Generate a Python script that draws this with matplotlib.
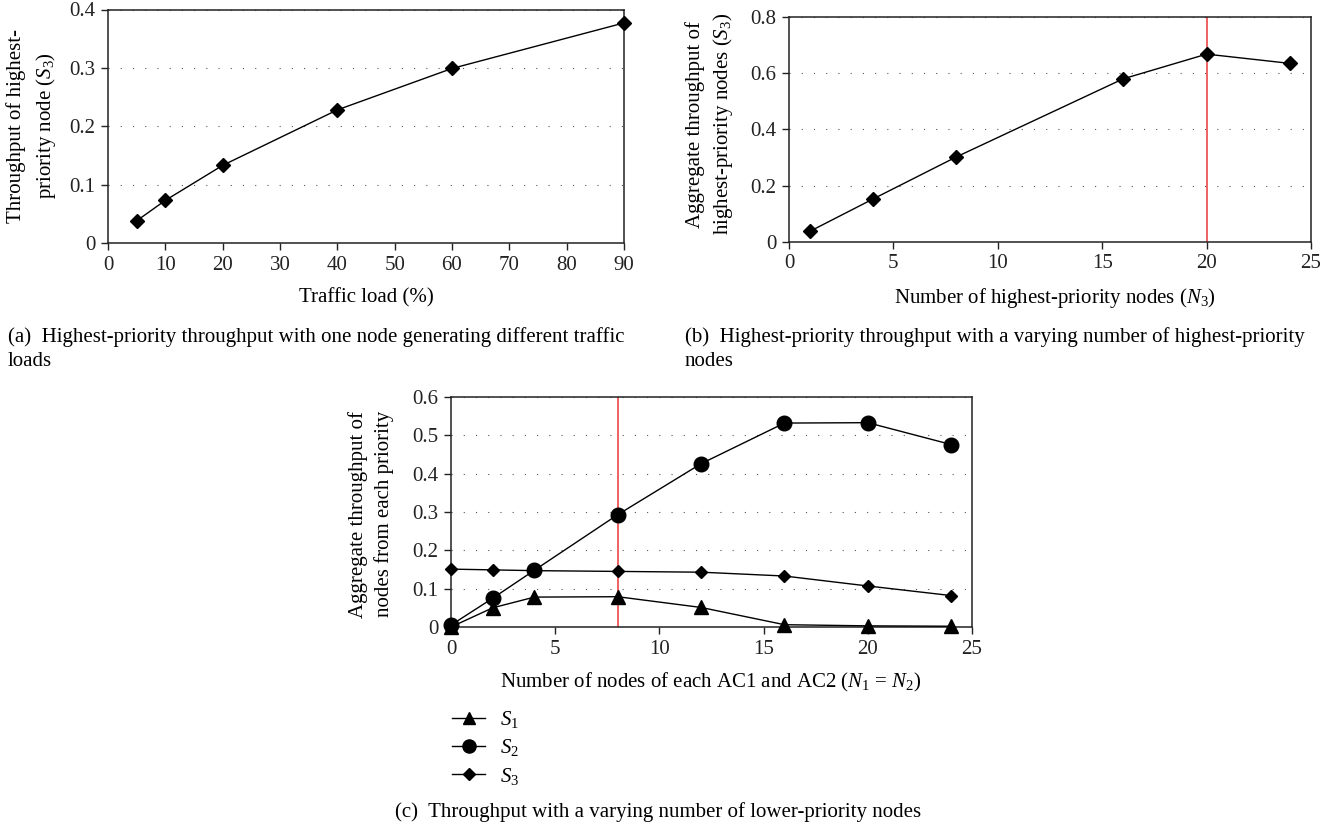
import numpy as np
import matplotlib
matplotlib.use('Agg')
import matplotlib.pyplot as plt
import matplotlib.ticker as mticker

# --- style ---
plt.rcParams['font.family'] = ['Liberation Serif', 'DejaVu Serif']
plt.rcParams['mathtext.fontset'] = 'custom'
plt.rcParams['mathtext.rm'] = 'Liberation Serif'
plt.rcParams['mathtext.it'] = 'Liberation Serif:italic'
plt.rcParams['font.size'] = 15

FS = 15

# ==============================================================================
# Data
# ==============================================================================
load_a = [5, 10, 20, 40, 60, 90]
s3_a = [0.038, 0.073, 0.133, 0.228, 0.299, 0.377]

nodes_b = [1, 4, 8, 16, 20, 24]
s3_b = [0.038, 0.152, 0.302, 0.580, 0.668, 0.635]

nodes_c = [0, 2, 4, 8, 12, 16, 20, 24]
s1_c = [0.0, 0.050, 0.078, 0.079, 0.051, 0.006, 0.003, 0.002]
s2_c = [0.005, 0.075, 0.148, 0.293, 0.426, 0.532, 0.533, 0.476]
s3_c = [0.151, 0.149, 0.147, 0.145, 0.143, 0.133, 0.107, 0.082]

W, H = 1341, 826
fig = plt.figure(figsize=(W / 100, H / 100), dpi=100)


def px_axes(left, right, top, bottom):
    return fig.add_axes([left / W, 1 - bottom / H, (right - left) / W, (bottom - top) / H])


def px_text(x, y, s, **kw):
    fig.text(x / W, 1 - y / H, s, **kw)


def style(ax):
    for sp in ax.spines.values():
        sp.set_linewidth(1.1)
        sp.set_color('#222222')
    ax.tick_params(direction='out', length=5, width=1, colors='#222222',
                   labelsize=FS, pad=4)
    ax.yaxis.set_major_formatter(mticker.FuncFormatter(lambda v, p: f'{v:g}'))
    ax.grid(True, axis='y', color='#555555', linewidth=0.8, linestyle=(0, (1, 10)))
    ax.set_axisbelow(True)


red = '#ee5555'

# --- (a) ---
ax1 = px_axes(108, 624, 9.5, 243)
ax1.plot(load_a, s3_a, color='black', lw=1, marker='D', ms=7.5, clip_on=False, zorder=4)
ax1.set_xlim(0, 90)
ax1.set_ylim(0, 0.4)
ax1.set_xticks(np.arange(0, 91, 10))
ax1.set_yticks(np.arange(0, 0.41, 0.1))
style(ax1)
px_text(366, 298, 'Traffic load (%)', ha='center', va='center', fontsize=FS)
px_text(32, 126, 'Throughput of highest-\npriority node ($S_3$)', rotation=90,
        ha='center', va='center', fontsize=FS, linespacing=1.45)
px_text(8, 337, '(a)  Highest-priority throughput with one node generating different traffic',
        ha='left', va='center', fontsize=FS)
px_text(8, 362, 'loads', ha='left', va='center', fontsize=FS)

# --- (b) ---
ax2 = px_axes(789, 1311, 17, 242)
ax2.axvline(20, color=red, lw=1.3, zorder=2)
ax2.plot(nodes_b, s3_b, color='black', lw=1, marker='D', ms=7.5, clip_on=False, zorder=4)
ax2.set_xlim(0, 25)
ax2.set_ylim(0, 0.8)
ax2.set_xticks(np.arange(0, 26, 5))
ax2.set_yticks(np.arange(0, 0.81, 0.2))
style(ax2)
px_text(1055, 298, 'Number of highest-priority nodes ($N_3$)', ha='center', va='center', fontsize=FS)
px_text(710, 124, 'Aggregate throughput of\nhighest-priority nodes ($S_3$)', rotation=90,
        ha='center', va='center', fontsize=FS, linespacing=1.3)
px_text(685, 337, '(b)  Highest-priority throughput with a varying number of highest-priority',
        ha='left', va='center', fontsize=FS)
px_text(685, 362, 'nodes', ha='left', va='center', fontsize=FS)

# --- (c) ---
ax3 = px_axes(451, 972, 397, 627)
ax3.axvline(8, color=red, lw=1.3, zorder=2)
ax3.plot(nodes_c, s1_c, color='black', lw=1, marker='^', ms=9.5, clip_on=False, zorder=4, label='$S_1$')
ax3.plot(nodes_c, s2_c, color='black', lw=1, marker='o', ms=10.5, clip_on=False, zorder=4, label='$S_2$')
ax3.plot(nodes_c, s3_c, color='black', lw=1, marker='D', ms=6.5, clip_on=False, zorder=4, label='$S_3$')
ax3.set_xlim(0, 25)
ax3.set_ylim(0, 0.6)
ax3.set_xticks(np.arange(0, 26, 5))
ax3.set_yticks(np.arange(0, 0.61, 0.1))
style(ax3)
px_text(711, 682, 'Number of nodes of each AC1 and AC2 ($N_1$ = $N_2$)',
        ha='center', va='center', fontsize=FS)
px_text(371, 514, 'Aggregate throughput of\nnodes from each priority', rotation=90,
        ha='center', va='center', fontsize=FS, linespacing=1.4)
ax3.legend(loc='upper left', bbox_to_anchor=(452 / W, 1 - 709 / H),
           bbox_transform=fig.transFigure, frameon=False, fontsize=FS,
           borderpad=0, borderaxespad=0, handlelength=1.6, handletextpad=0.7,
           labelspacing=0.35, markerscale=0.9)
px_text(395, 812, '(c)  Throughput with a varying number of lower-priority nodes',
        ha='left', va='center', fontsize=FS)

fig.savefig('out.png', dpi=100)
